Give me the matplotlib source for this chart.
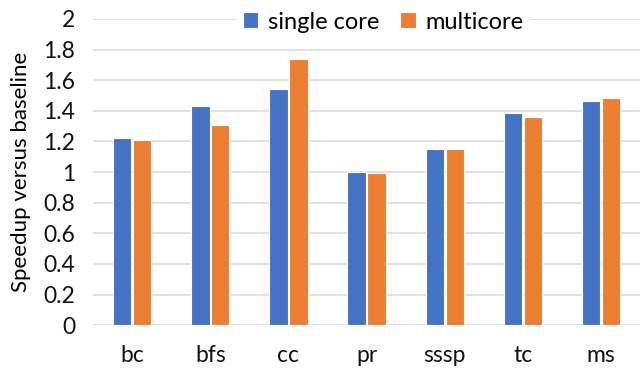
import matplotlib
matplotlib.use("Agg")
import matplotlib.pyplot as plt
import numpy as np

benchmarks = ["bc", "bfs", "cc", "pr", "sssp", "tc", "ms"]
single_core = [1.224, 1.431, 1.540, 1.000, 1.148, 1.384, 1.466]
multicore = [1.209, 1.309, 1.736, 0.993, 1.152, 1.359, 1.484]

plt.rcParams["font.family"] = ["Lato", "DejaVu Sans"]

fig = plt.figure(figsize=(6.42, 3.72), dpi=100)
ax = fig.add_axes([0.145, 0.126, 0.852, 0.823])

x = np.arange(len(benchmarks))
w = 0.235
ax.bar(x - w / 2 - 0.01, single_core, width=w, color="#4472C4",
       edgecolor="white", linewidth=0.8, label="single core", zorder=3)
ax.bar(x + w / 2 + 0.01, multicore, width=w, color="#ED7D31",
       edgecolor="white", linewidth=0.8, label="multicore", zorder=3)

ax.set_xlim(-0.5, len(benchmarks) - 0.5)
ax.set_ylim(0, 2)
ax.set_yticks(np.arange(0, 2.01, 0.2))
ax.set_yticklabels(["0", "0.2", "0.4", "0.6", "0.8", "1", "1.2", "1.4",
                    "1.6", "1.8", "2"])
ax.set_xticks(x)
ax.set_xticklabels(benchmarks)
ax.tick_params(axis="both", length=0, labelsize=16.5, colors="#111111")
ax.tick_params(axis="x", pad=14)
ax.tick_params(axis="y", pad=13)
ax.grid(axis="y", color="#d9d9d9", linewidth=1.1, zorder=0)
ax.set_axisbelow(True)
for s in ax.spines.values():
    s.set_visible(False)

ax.set_ylabel("Speedup versus baseline", fontsize=16, labelpad=9)

leg = ax.legend(loc="center", bbox_to_anchor=(0.53, 0.99), ncol=2,
                frameon=True, fontsize=17, handlelength=0.65,
                handleheight=0.65, handletextpad=0.4, columnspacing=0.9,
                borderpad=0.25, fancybox=False)
leg.get_frame().set_edgecolor("white")
leg.get_frame().set_facecolor("white")
leg.get_frame().set_alpha(1)

fig.savefig("out.png", dpi=100)
